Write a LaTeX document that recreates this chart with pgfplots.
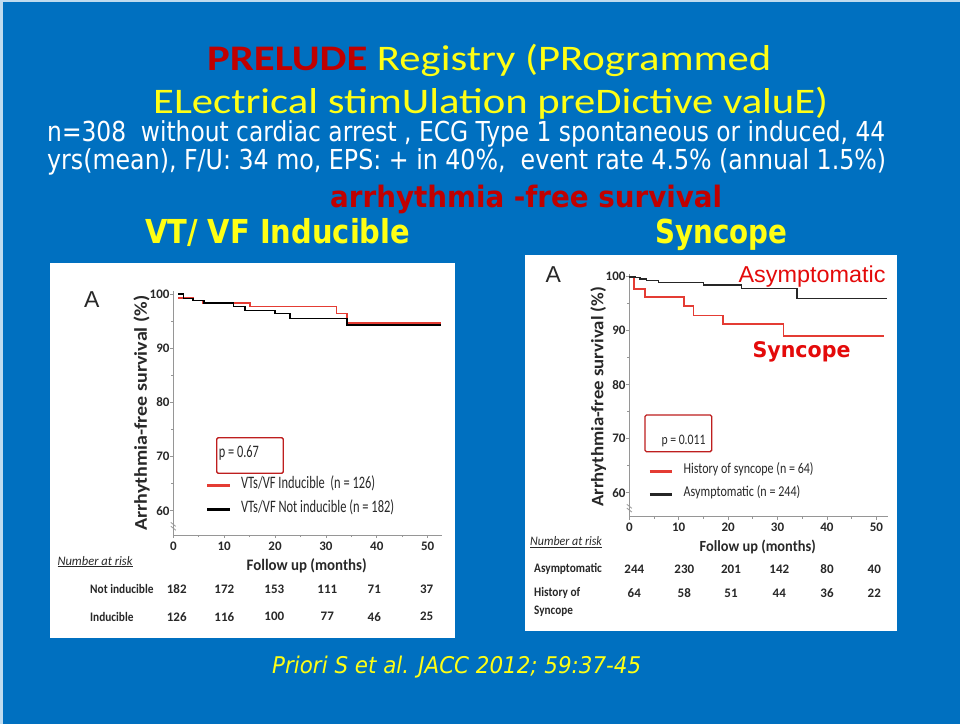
\documentclass[border=0pt]{standalone}
\usepackage{fontspec}
\usepackage{graphicx}
\usepackage{pgfplots}
\pgfplotsset{compat=1.18}
\setmainfont{Carlito}
\newfontfamily\tahoma{DejaVu Sans}
\newfontfamily\arialf{Liberation Sans}
\definecolor{slideblue}{RGB}{0,112,192}
\definecolor{slideyellow}{RGB}{255,255,20}
\definecolor{prelred}{RGB}{192,0,0}
\definecolor{kmred}{RGB}{228,60,52}
\definecolor{boxred}{RGB}{190,30,30}
\definecolor{axgray}{RGB}{150,150,150}
\definecolor{chtext}{RGB}{40,40,40}
\definecolor{overred}{RGB}{228,10,10}
\newcommand{\fitw}[2]{\resizebox{#1}{\height}{#2}}
\newcommand{\chfont}[1]{\fontsize{#1}{#1}\selectfont}
\pgfplotsset{
  kmaxis/.style={
    scale only axis, clip=false,
    axis lines*=left,
    axis line style={axgray, line width=0.9pt},
    xtick={0,10,...,50}, ytick={60,70,...,100},
    minor xtick={5,15,...,45}, minor ytick={65,75,85,95},
    tick align=outside, major tick length=3pt, minor tick length=2pt,
    tick style={axgray, line width=0.8pt},
    ticklabel style={font=\bfseries\chfont{13}, text=chtext},
    yticklabel style={inner xsep=0.6pt},
    /pgf/number format/assume math mode=true,
    legend cell align=left,
    legend image code/.code={\draw[##1, line width=3pt] (0pt,0pt) -- (22.3pt,0pt);},
    legend image post style={line width=3pt},
  }
}
\begin{document}
\begin{tikzpicture}[x=1pt,y=1pt]
% slide background
\fill[slideblue] (0,0) rectangle (960,724);
\fill[white!75!slideblue] (0,721.5) rectangle (960,724);
\fill[white!75!slideblue] (0,0) rectangle (2.5,724);
% title
\node[anchor=base west, inner sep=0pt] at (207,653.5) {\fitw{564pt}{\chfont{36}\textcolor{prelred}{\bfseries PRELUDE} \textcolor{slideyellow}{Registry (PRogrammed}}};
\node[anchor=base west, inner sep=0pt] at (153,610) {\fitw{675pt}{\chfont{36}\color{slideyellow}ELectrical stimUlation preDictive valuE)}};
\node[anchor=base west, inner sep=0pt] at (47,582.3) {\fitw{838pt}{\tahoma\chfont{27.5}\color{white}n=308\ \ without cardiac arrest , ECG Type 1 spontaneous or induced, 44}};
\node[anchor=base west, inner sep=0pt] at (47,554.7) {\fitw{839pt}{\tahoma\chfont{27.5}\color{white}yrs(mean), F/U: 34 mo, EPS: + in 40\%,\ \ event rate 4.5\% (annual 1.5\%)}};
\node[anchor=base west, inner sep=0pt] at (330,516.7) {\fitw{392pt}{\tahoma\bfseries\chfont{29.5}\color{prelred}arrhythmia -free survival}};
\node[anchor=base west, inner sep=0pt] at (145,480.7) {\fitw{265pt}{\tahoma\bfseries\chfont{33}\color{slideyellow}VT/ VF Inducible}};
\node[anchor=base west, inner sep=0pt] at (655,480.7) {\fitw{132pt}{\tahoma\bfseries\chfont{33}\color{slideyellow}Syncope}};
\node[anchor=base west, inner sep=0pt] at (272,50.7) {\fitw{369pt}{\tahoma\itshape\chfont{23}\color{slideyellow}Priori S et al. JACC 2012; 59:37-45}};
% white panels
\fill[white] (50,86) rectangle (455,461);
\fill[white] (525,93) rectangle (897,469);

% ---------------- left chart ----------------
\begin{axis}[kmaxis,
  at={(173.3pt,189pt)}, anchor=south west,
  width=268.6pt, height=243.7pt,
  xmin=0, xmax=52.8, ymin=55.54, ymax=100.5,
  legend style={at={(axis cs:6.37,62.5)}, anchor=west, draw=none, fill=none,
    inner sep=0pt, outer sep=0pt, column sep=10pt, row sep=12.3pt,
    nodes={inner sep=0pt, text height=9pt, text depth=3pt, text=chtext}},
]
\addplot[kmred, line width=1.7pt, const plot] coordinates {
 (1,99.2) (3.9,98.8) (5.9,98.4) (15.1,97.7) (32.1,96.4) (34.1,94.6) (52.7,94.6)};
\addlegendentry{\fitw{134.3pt}{\chfont{17.5}VTs/VF Inducible\ \ (n = 126)}}
\addplot[black, line width=1.5pt, const plot] coordinates {
 (1,100) (2,99.2) (3.9,98.8) (6,98.3) (11.8,97.7) (14.1,97.0) (20,96.4) (22.9,95.5) (34.1,94.3) (52.7,94.3)};
\addlegendentry{\fitw{153.3pt}{\chfont{17.5}VTs/VF Not inducible (n = 182)}}
\draw[axgray, line width=0.8pt] (axis cs:0,57.4) ++(-2.5pt,2.5pt) -- ++(5pt,-4pt);
\draw[axgray, line width=0.8pt] (axis cs:0,56.7) ++(-2.5pt,2.5pt) -- ++(5pt,-4pt);
\end{axis}
\node[font=\arialf, chtext] at (91.7,424) {\chfont{23}A};
\node[rotate=90, chtext] at (141.7,311) {\fitw{235pt}{\bfseries\chfont{18}Arrhythmia-free survival (\%)}};
\draw[boxred, line width=1.3pt, rounded corners=1.5pt] (216.7,250.7) rectangle (283.3,286.3);
\node[anchor=west, inner sep=0pt, chtext] at (218.7,271) {\fitw{40pt}{\chfont{17.5}p = 0.67}};
\node[anchor=west, inner sep=0pt, chtext] at (57.3,162.3) {\fitw{75pt}{\itshape\chfont{13}\underline{Number at risk}}};
\node[chtext] at (306.7,158.3) {\fitw{120pt}{\bfseries\chfont{16}Follow up (months)}};
\node[anchor=west, inner sep=0pt, chtext] at (90,135) {\fitw{63.3pt}{\bfseries\chfont{13}Not inducible}};
\node[anchor=west, inner sep=0pt, chtext] at (90,107.3) {\fitw{43.3pt}{\bfseries\chfont{13}Inducible}};
\foreach \xx/\nn in {176.7/182, 224.3/172, 274.3/153, 327.3/111, 374.3/71, 426.7/37}
  \node[chtext] at (\xx,135) {\bfseries\chfont{13}\nn};
\foreach \xx/\nn in {176.7/126, 224.3/116, 274.3/100, 327.3/77, 374.3/46, 426.7/25}
  \node[chtext] at (\xx,107.3) {\bfseries\chfont{13}\nn};

% ---------------- right chart ----------------
\begin{axis}[kmaxis,
  at={(629.3pt,207.3pt)}, anchor=south west,
  width=258.4pt, height=242.7pt,
  xmin=0, xmax=52.3, ymin=55.56, ymax=100.5,
  legend style={at={(axis cs:3.85,61.85)}, anchor=west, draw=none, fill=none,
    inner sep=0pt, outer sep=0pt, column sep=10pt, row sep=12.3pt,
    nodes={inner sep=0pt, text height=8pt, text depth=3pt, text=chtext}},
]
\addplot[kmred, line width=1.7pt, const plot] coordinates {
 (0,100) (1,97.7) (3.2,96.2) (11,94.6) (13,92.8) (19,91.2) (31.2,89.0) (51.6,89.0)};
\addlegendentry{\fitw{130pt}{\chfont{15}History of syncope (n = 64)}}
\addplot[black!85, line width=1.6pt, const plot] coordinates {
 (0,100) (1.1,99.85) (2.2,99.6) (3.5,99.3) (5.9,98.9) (15,98.5) (22.7,97.8) (33.9,96.0) (52.2,96.0)};
\addlegendentry{\fitw{116.7pt}{\chfont{15}Asymptomatic (n = 244)}}
\draw[axgray, line width=0.8pt] (axis cs:0,57.4) ++(-2.5pt,2.5pt) -- ++(5pt,-4pt);
\draw[axgray, line width=0.8pt] (axis cs:0,56.7) ++(-2.5pt,2.5pt) -- ++(5pt,-4pt);
\end{axis}
\node[font=\arialf, chtext] at (553.3,449) {\chfont{23}A};
\node[rotate=90, chtext] at (598.3,327.3) {\fitw{220pt}{\bfseries\chfont{17.5}Arrhythmia-free survival (\%)}};
\node[anchor=base west, inner sep=0pt] at (738.3,441.7) {\fitw{147pt}{\arialf\chfont{23}\color{overred}Asymptomatic}};
\node[anchor=base west, inner sep=0pt] at (752.3,366.7) {\fitw{98pt}{\tahoma\bfseries\chfont{21.5}\color{overred}Syncope}};
\draw[boxred, line width=1.3pt, rounded corners=1.5pt] (645,272.3) rectangle (711.7,309);
\node[anchor=east, inner sep=0pt, chtext] at (705.7,283.3) {\fitw{44pt}{\chfont{14.5}p = 0.011}};
\node[anchor=west, inner sep=0pt, chtext] at (530,181.7) {\fitw{71.7pt}{\itshape\chfont{13}\underline{Number at risk}}};
\node[chtext] at (757.7,177.3) {\fitw{116pt}{\bfseries\chfont{15.5}Follow up (months)}};
\node[anchor=west, inner sep=0pt, chtext] at (534,155) {\fitw{67.7pt}{\bfseries\chfont{13}Asymptomatic}};
\node[anchor=west, inner sep=0pt, chtext] at (534,130.7) {\fitw{46pt}{\bfseries\chfont{13}History of}};
\node[anchor=west, inner sep=0pt, chtext] at (534,112.3) {\fitw{38.7pt}{\bfseries\chfont{13}Syncope}};
\foreach \xx/\nn in {634.3/244, 684.3/230, 731/201, 779.3/142, 827/80, 874.3/40}
  \node[chtext] at (\xx,155) {\bfseries\chfont{13}\nn};
\foreach \xx/\nn in {634.3/64, 684.3/58, 731/51, 779.3/44, 827/36, 874.3/22}
  \node[chtext] at (\xx,130.7) {\bfseries\chfont{13}\nn};
\end{tikzpicture}
\end{document}
